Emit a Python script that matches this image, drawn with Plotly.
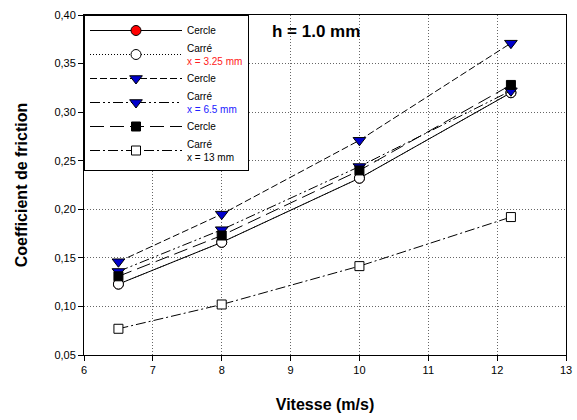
import plotly.graph_objects as go

vitesse = [6.5, 8, 10, 12.2]

cercle_325 = [0.123, 0.166, 0.232, 0.320]
carre_325 = [0.123, 0.166, 0.232, 0.320]
cercle_65 = [0.146, 0.195, 0.271, 0.371]
carre_65 = [0.136, 0.179, 0.244, 0.322]
cercle_13 = [0.131, 0.173, 0.240, 0.328]
carre_13 = [0.077, 0.102, 0.1415, 0.192]

names = [
    "Cercle",
    "Carré<br><span style='color:#ff2020'>x = 3.25 mm</span>",
    "Cercle",
    "Carré<br><span style='color:#2020ff'>x = 6.5 mm</span>",
    "Cercle",
    "Carré<br>x = 13 mm",
]
series = [cercle_325, carre_325, cercle_65, carre_65, cercle_13, carre_13]
dashes = ["solid", "1px,2px", "7px,3px", "10px,3px,2px,3px,2px,3px", "14px,6px", "10px,3px,2px,3px"]
symbols = ["circle", "circle", "triangle-down", "triangle-down", "square", "square"]
fills = ["#ff0000", "white", "#0000cc", "#0000cc", "black", "white"]
sizes = [10, 10, 11, 11, 9, 9]

fig = go.Figure()
for nm, ys, d, s, f, sz in zip(names, series, dashes, symbols, fills, sizes):
    fig.add_trace(go.Scatter(
        x=vitesse, y=ys, name=nm, mode="lines+markers",
        line=dict(color="black", width=1, dash=d),
        marker=dict(symbol=s, color=f, size=sz, line=dict(color="black", width=1)),
    ))

fig.add_annotation(x=0.385, y=0.985, xref="paper", yref="paper", text="<b>h = 1.0 mm</b>",
                   showarrow=False, xanchor="left", yanchor="top",
                   font=dict(size=17, color="black", family="Liberation Sans, Arial"))

fig.update_layout(
    width=577, height=420,
    margin=dict(l=84, r=11, t=15, b=65),
    paper_bgcolor="white", plot_bgcolor="white",
    separators=",.",
    font=dict(family="Liberation Sans, Arial", color="black", size=11),
    legend=dict(x=0, y=1, xanchor="left", yanchor="top", bgcolor="white",
                bordercolor="black", borderwidth=1, font=dict(size=10),
                tracegroupgap=0, itemwidth=92),
    showlegend=True,
)
fig.update_xaxes(range=[6, 13], dtick=1, tick0=6, showgrid=True, gridcolor="#666666",
                 griddash="1px,2px", gridwidth=1, showline=True, linecolor="black", linewidth=1,
                 mirror=True, ticks="outside", ticklen=5, tickcolor="black", zeroline=False,
                 automargin=False,
                 title=dict(text="<b>Vitesse (m/s)</b>", font=dict(size=16), standoff=23))
fig.update_yaxes(range=[0.05, 0.40], dtick=0.05, tick0=0.05, tickformat=".2f", showgrid=True,
                 gridcolor="#666666", griddash="1px,2px", gridwidth=1, showline=True, linecolor="black",
                 linewidth=1, mirror=True, ticks="outside", ticklen=5, tickcolor="black",
                 zeroline=False, automargin=False,
                 title=dict(text="<b>Coefficient de friction</b>", font=dict(size=16), standoff=22))

fig.write_html("out.html", config={"displayModeBar": False},
               post_script="document.body.style.margin='0';")
